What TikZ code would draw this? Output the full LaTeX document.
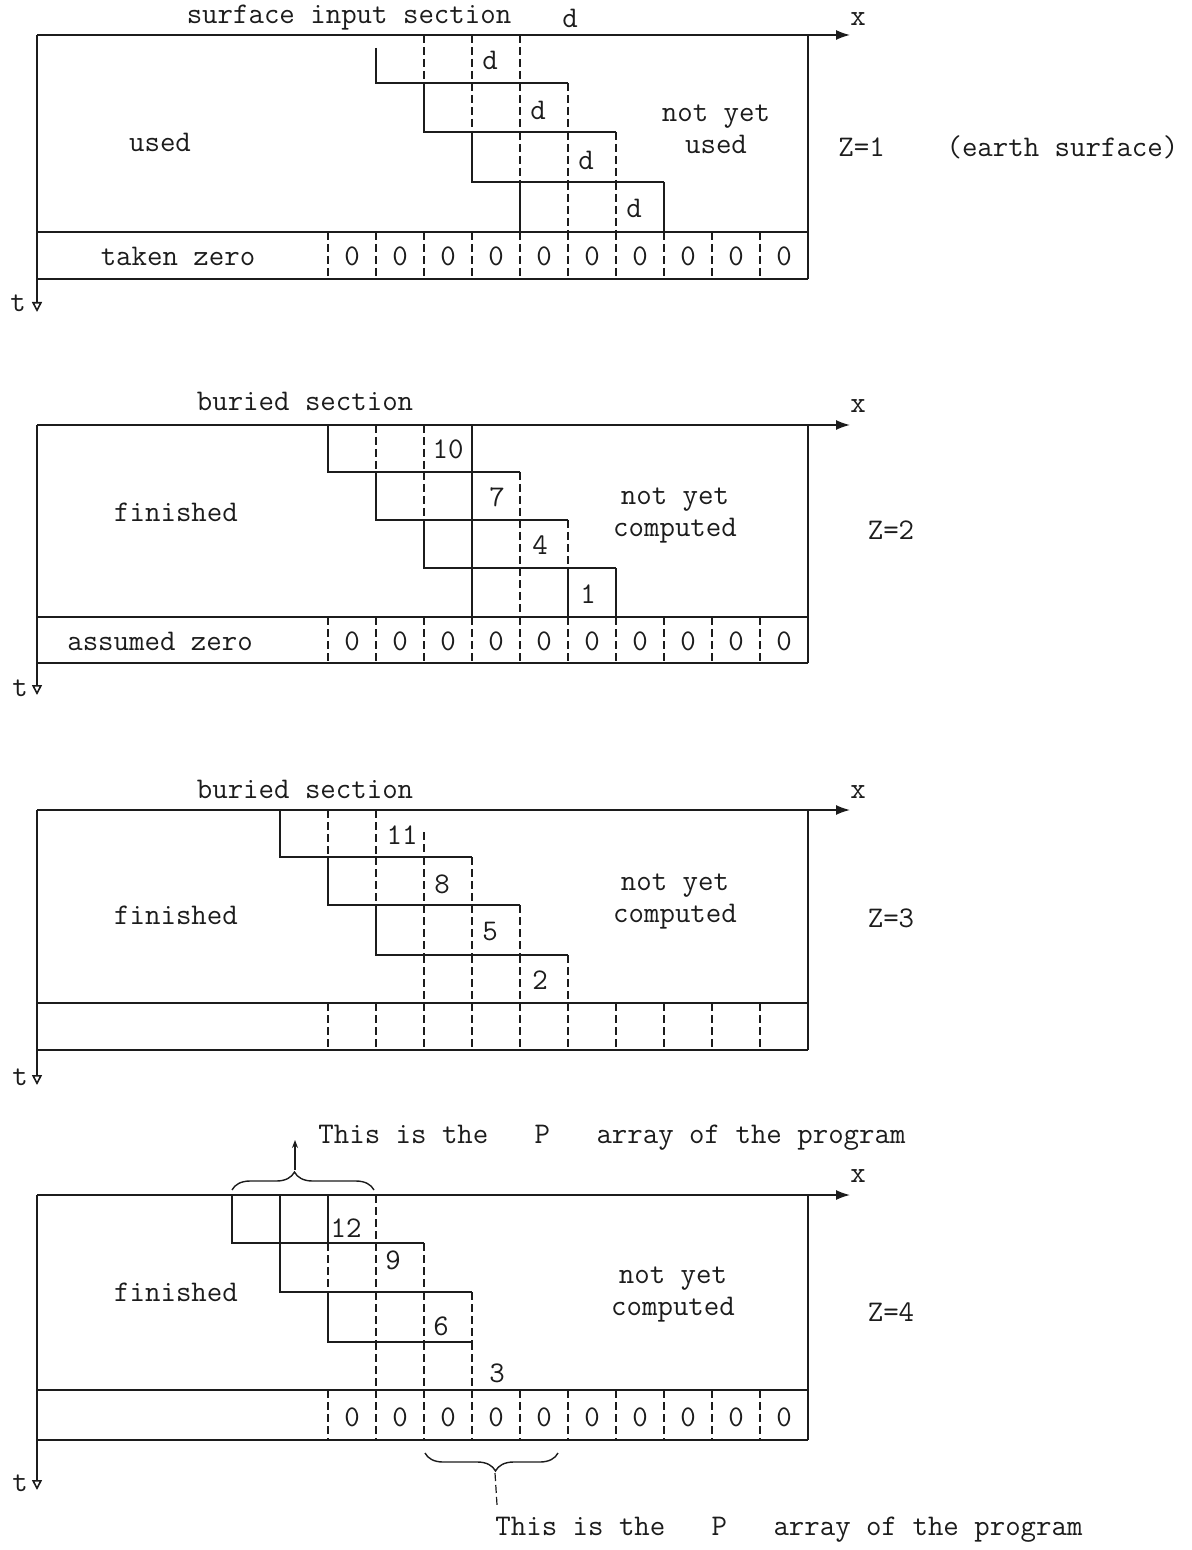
\documentclass[tikz,border=0pt]{standalone}
\usepackage{xcolor,tikz}
\usetikzlibrary{arrows.meta,decorations.pathreplacing}
\definecolor{scanInk}{HTML}{1C1C1C}
\tikzset{
  grid frame/.style={line width=0.8pt, draw=scanInk},
  stair edge/.style={line width=0.75pt, draw=scanInk},
  cell rule/.style={line width=0.6pt, draw=scanInk, dash pattern=on 4pt off 2pt},
  x axis/.style={grid frame, -{Latex[length=7pt,width=5pt]}},
  t axis/.style={grid frame, -{Triangle[open,length=5pt,width=5pt]}},
  tw text/.style={font=\fontsize{15}{16}\selectfont\ttfamily, text=scanInk,
    inner sep=0pt, align=center},
  p brace/.style={line width=0.7pt, draw=scanInk, decorate,
    decoration={brace, amplitude=9pt, aspect=#1}},
}

\begin{document}
\begin{tikzpicture}[x=0.5pt, y=-0.5pt]
\useasboundingbox (0,0) rectangle (1191,1550);

%% ===== Z=1 : SURFACE INPUT SECTION =====
\def\yT{35}\def\yZ{232}\def\yB{279}\def\yt{312}

% --- FRAME ---
\coordinate (oA) at (37,\yT);
\coordinate (xA) at (850,\yT);
\coordinate (tA) at (37,\yt);
\draw[x axis] (oA) -- (xA);
\draw[t axis] (oA) -- (tA);
\draw[grid frame] (808,\yT) -- (808,\yB);
\draw[grid frame] (37,\yZ) -- (808,\yZ) (37,\yB) -- (808,\yB);
\node[tw text] (xlA) at (858,19) {x};
\node[tw text] (tlA) at (18,303) {t};

% --- ZERO ROW ---
\foreach \k in {0,...,9} {
  \draw[cell rule] ({328+48*\k},\yZ) -- ({328+48*\k},\yB);
  \node[tw text] (zA\k) at ({352+48*\k},256) {0};
}

% --- STAIRCASE ---
\draw[stair edge] (376,48) -- (376,83) -- (568,83);
\draw[cell rule] (424,35) -- (424,83) (472,35) -- (472,83) (520,35) -- (520,83);
\draw[stair edge] (424,83) -- (424,132) -- (616,132);
\draw[cell rule] (472,83) -- (472,132) (520,83) -- (520,132) (568,83) -- (568,132);
\draw[stair edge] (472,132) -- (472,182) -- (664,182);
\draw[cell rule] (520,132) -- (520,182) (568,132) -- (568,182) (616,132) -- (616,182);
\draw[stair edge] (520,182) -- (520,232);
\draw[cell rule] (568,182) -- (568,232) (616,182) -- (616,232);
\draw[stair edge] (664,182) -- (664,232);
\node[tw text] (dA1) at (490,60) {d};
\node[tw text] (dA2) at (538,110) {d};
\node[tw text] (dA3) at (586,160) {d};
\node[tw text] (dA4) at (634,208) {d};

% --- TEXTS ---
\node[tw text] (headA) at (349,18) {surface input section};
\node[tw text] (dA0) at (570,18) {d};
\node[tw text] (usedA) at (160,142) {used};
\node[tw text] (restA) at (716,129) {not yet\\used};
\node[tw text] (baseA) at (178,256) {taken zero};
\node[tw text, anchor=west] (levA) at (838,147) {Z=1~~~~(earth surface)};

%% ===== Z=2 : BURIED SECTION =====
\def\yT{425}\def\yZ{617}\def\yB{663}\def\yt{695}

% --- FRAME ---
\coordinate (oB) at (37,\yT);
\coordinate (xB) at (850,\yT);
\coordinate (tB) at (37,\yt);
\draw[x axis] (oB) -- (xB);
\draw[t axis] (oB) -- (tB);
\draw[grid frame] (808,\yT) -- (808,\yB);
\draw[grid frame] (37,\yZ) -- (808,\yZ) (37,\yB) -- (808,\yB);
\node[tw text] (xlB) at (858,406) {x};
\node[tw text] (tlB) at (20,688) {t};

% --- ZERO ROW ---
\foreach \k in {0,...,9} {
  \draw[cell rule] ({328+48*\k},\yZ) -- ({328+48*\k},\yB);
  \node[tw text] (zB\k) at ({352+48*\k},641) {0};
}

% --- STAIRCASE ---
\draw[stair edge] (328,425) -- (328,472) -- (520,472);
\draw[cell rule] (376,425) -- (376,472) (424,425) -- (424,472);
\draw[stair edge] (472,425) -- (472,617);
\draw[stair edge] (376,472) -- (376,520) -- (568,520);
\draw[cell rule] (424,472) -- (424,520) (520,472) -- (520,520);
\draw[stair edge] (424,520) -- (424,568) -- (616,568);
\draw[cell rule] (520,520) -- (520,568) (568,520) -- (568,568);
\draw[cell rule] (520,568) -- (520,617);
\draw[stair edge] (568,568) -- (568,617) (616,568) -- (616,617);
\node[tw text] (nB10) at (448,449) {10};
\node[tw text] (nB7) at (497,497) {7};
\node[tw text] (nB4) at (540,545) {4};
\node[tw text] (nB1) at (588,594) {1};

% --- TEXTS ---
\node[tw text] (headB) at (305,401) {buried section};
\node[tw text] (doneB) at (176,512) {finished};
\node[tw text] (restB) at (675,516) {not yet\\computed};
\node[tw text] (baseB) at (160,641) {assumed zero};
\node[tw text] (levB) at (891,530) {Z=2};

%% ===== Z=3 : BURIED SECTION =====
\def\yT{810}\def\yZ{1003}\def\yB{1050}\def\yt{1085}

% --- FRAME ---
\coordinate (oC) at (37,\yT);
\coordinate (xC) at (850,\yT);
\coordinate (tC) at (37,\yt);
\draw[x axis] (oC) -- (xC);
\draw[t axis] (oC) -- (tC);
\draw[grid frame] (808,\yT) -- (808,\yB);
\draw[grid frame] (37,\yZ) -- (808,\yZ) (37,\yB) -- (808,\yB);
\node[tw text] (xlC) at (858,792) {x};
\node[tw text] (tlC) at (20,1077) {t};

% --- EMPTY ROW ---
\foreach \k in {0,...,9} {
  \draw[cell rule] ({328+48*\k},\yZ) -- ({328+48*\k},\yB);
}

% --- STAIRCASE ---
\draw[stair edge] (280,810) -- (280,857) -- (472,857);
\draw[cell rule] (328,810) -- (328,857) (376,810) -- (376,857) (424,832) -- (424,857);
\draw[stair edge] (328,857) -- (328,905) -- (520,905);
\draw[cell rule] (376,857) -- (376,905) (424,857) -- (424,905) (472,857) -- (472,905);
\draw[stair edge] (376,905) -- (376,955) -- (568,955);
\draw[cell rule] (424,905) -- (424,955) (472,905) -- (472,955) (520,905) -- (520,955);
\draw[cell rule] (424,955) -- (424,1003) (472,955) -- (472,1003)
  (520,955) -- (520,1003) (568,955) -- (568,1003);
\node[tw text] (nC11) at (402,835) {11};
\node[tw text] (nC8) at (442,884) {8};
\node[tw text] (nC5) at (490,932) {5};
\node[tw text] (nC2) at (540,980) {2};

% --- TEXTS ---
\node[tw text] (headC) at (305,789) {buried section};
\node[tw text] (doneC) at (176,915) {finished};
\node[tw text] (restC) at (675,902) {not yet\\computed};
\node[tw text] (levC) at (891,918) {Z=3};

%% ===== Z=4 : BURIED SECTION, P ARRAY =====
\def\yT{1195}\def\yZ{1390}\def\yB{1440}\def\yt{1490}

% --- FRAME ---
\coordinate (oD) at (37,\yT);
\coordinate (xD) at (850,\yT);
\coordinate (tD) at (37,\yt);
\draw[x axis] (oD) -- (xD);
\draw[t axis] (oD) -- (tD);
\draw[grid frame] (808,\yT) -- (808,\yB);
\draw[grid frame] (37,\yZ) -- (808,\yZ) (37,\yB) -- (808,\yB);
\node[tw text] (xlD) at (858,1176) {x};
\node[tw text] (tlD) at (20,1483) {t};

% --- ZERO ROW ---
\foreach \k in {0,...,9} {
  \draw[cell rule] ({328+48*\k},\yZ) -- ({328+48*\k},\yB);
  \node[tw text] (zD\k) at ({352+48*\k},1417) {0};
}

% --- STAIRCASE ---
\draw[stair edge] (232,1195) -- (232,1243) -- (424,1243);
\draw[stair edge] (280,1195) -- (280,1243) (328,1195) -- (328,1243);
\draw[cell rule] (376,1195) -- (376,1243);
\draw[stair edge] (280,1243) -- (280,1292) -- (472,1292);
\draw[cell rule] (328,1243) -- (328,1292) (376,1243) -- (376,1292) (424,1243) -- (424,1292);
\draw[stair edge] (328,1292) -- (328,1342) -- (472,1342);
\draw[cell rule] (376,1292) -- (376,1342) (424,1292) -- (424,1342) (472,1292) -- (472,1342);
\draw[cell rule] (376,1342) -- (376,1390) (424,1342) -- (424,1390) (472,1342) -- (472,1390);
\node[tw text] (nD12) at (346,1228) {12};
\node[tw text] (nD9) at (393,1260) {9};
\node[tw text] (nD6) at (441,1326) {6};
\node[tw text] (nD3) at (497,1373) {3};

% --- P ARRAY BRACES ---
\draw[p brace=0.44] (232,1190) -- (374,1190);
\coordinate (pTopTip) at (295,1170);
\coordinate (pTopHead) at (295,1140);
\draw[line width=0.6pt, scanInk, -{Stealth[length=4pt,width=3pt]}] (pTopTip) -- (pTopHead);
\draw[p brace=0.47] (558,1453) -- (425,1453);
\coordinate (pBotTip) at (495,1473);
\coordinate (pBotEnd) at (497,1505);
\draw[cell rule] (pBotTip) -- (pBotEnd);

% --- TEXTS ---
\node[tw text, anchor=west] (noteTop) at (318,1138) {This is the~~~P~~~array of the program};
\node[tw text] (doneD) at (176,1292) {finished};
\node[tw text] (restD) at (673,1295) {not yet\\computed};
\node[tw text] (levD) at (891,1312) {Z=4};
\node[tw text, anchor=west] (noteBot) at (495,1530) {This is the~~~P~~~array of the program};

\end{tikzpicture}
\end{document}
